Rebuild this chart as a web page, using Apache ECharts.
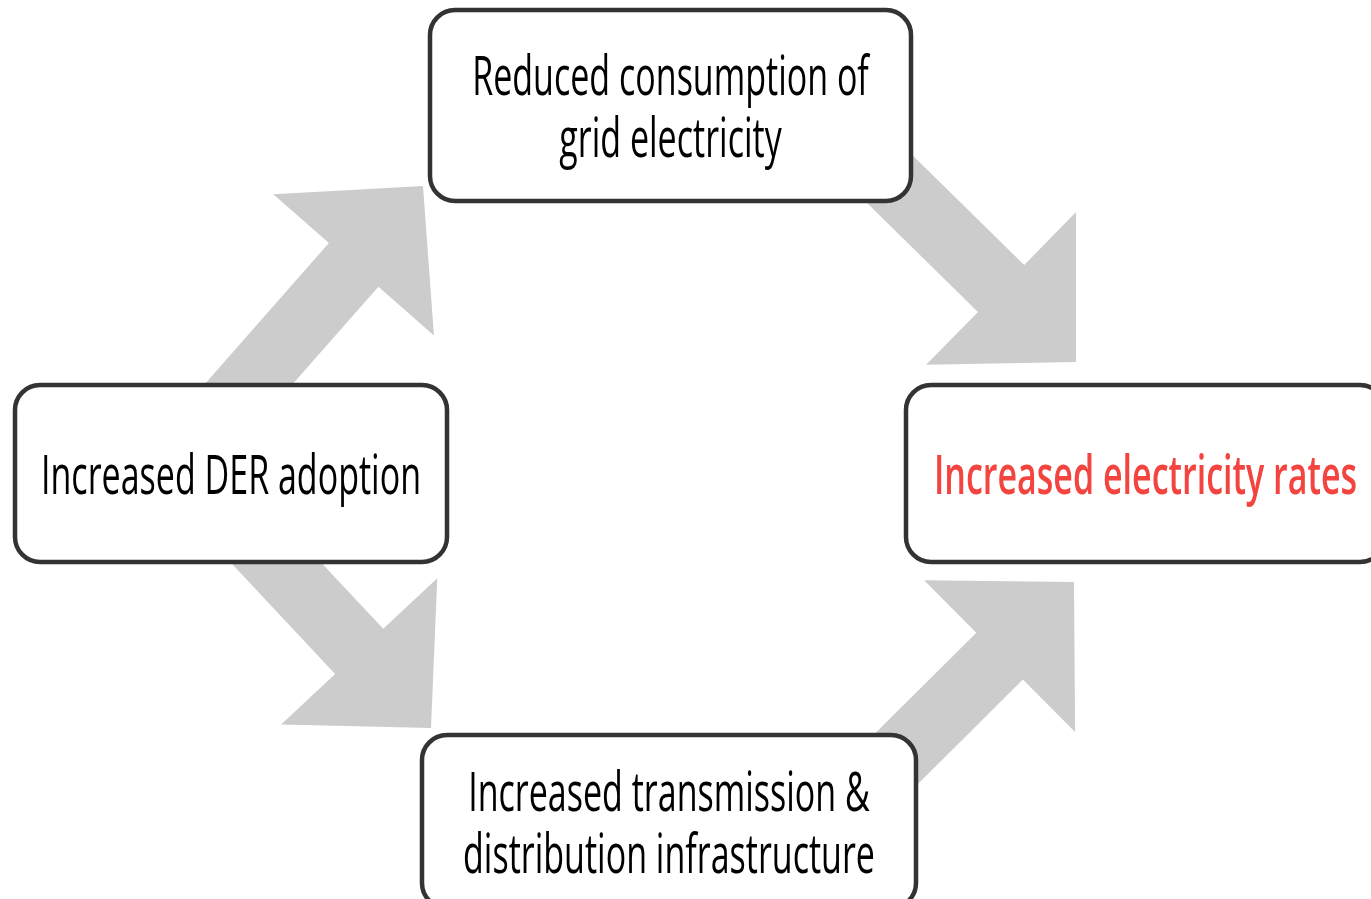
<!DOCTYPE html>
<html>
<head>
<meta charset="utf-8">
<title>DER feedback loop</title>
<script src="https://cdn.jsdelivr.net/npm/echarts@6/dist/echarts.min.js"></script>
<style>
  html, body { margin: 0; padding: 0; background: #fff; }
  #loop { width: 1371px; height: 899px; }
</style>
</head>
<body>
<div id="loop"></div>
<script>
// nodes of the loop (pixel-like units of the hidden axes)
var boxLabels = [
    'Reduced consumption of\ngrid electricity',
    'Increased DER adoption',
    'Increased electricity rates',
    'Increased transmission &\ndistribution infrastructure'
];
var boxLeft   = [430, 15, 906, 422];
var boxTop    = [10, 385, 385, 735];
var boxRight  = [911, 447, 1385, 916];
var boxBottom = [201, 562, 562, 908];
var outcomeIndex = 2;

// links: tail point (hidden under source box) -> arrow tip
var arrowTail = [[225, 411], [855, 145], [221, 504], [855, 800]];
var arrowTip  = [[423, 186], [1076, 362], [431, 728], [1074, 582]];

var loopdom = document.getElementById('loop');
var loopchart = echarts.init(loopdom);

var boxData = [];
for (var i = 0; i < boxLabels.length; i++) {
    boxData.push([boxLeft[i], boxTop[i], boxRight[i], boxBottom[i], i]);
}
var arrowData = [];
for (var j = 0; j < arrowTail.length; j++) {
    arrowData.push([arrowTail[j][0], arrowTail[j][1], arrowTip[j][0], arrowTip[j][1]]);
}

function renderArrow(params, api) {
    var a = api.coord([api.value(0), api.value(1)]);
    var b = api.coord([api.value(2), api.value(3)]);
    var dx = b[0] - a[0], dy = b[1] - a[1];
    var len = Math.sqrt(dx * dx + dy * dy);
    var ux = dx / len, uy = dy / len;
    var nx = -uy, ny = ux;
    var headLen = 105, headHalf = 107, shaftHalf = 33;
    var bx = b[0] - ux * headLen, by = b[1] - uy * headLen;
    var pts = [
        [a[0] + nx * shaftHalf, a[1] + ny * shaftHalf],
        [bx + nx * shaftHalf, by + ny * shaftHalf],
        [bx + nx * headHalf, by + ny * headHalf],
        [b[0], b[1]],
        [bx - nx * headHalf, by - ny * headHalf],
        [bx - nx * shaftHalf, by - ny * shaftHalf],
        [a[0] - nx * shaftHalf, a[1] - ny * shaftHalf]
    ];
    return {
        type: 'polygon',
        shape: { points: pts },
        style: { fill: '#cccccc' }
    };
}

function renderBox(params, api) {
    var p0 = api.coord([api.value(0), api.value(1)]);
    var p1 = api.coord([api.value(2), api.value(3)]);
    var idx = api.value(4);
    var hot = idx === outcomeIndex;
    return {
        type: 'group',
        children: [
            {
                type: 'rect',
                shape: { x: p0[0], y: p0[1], width: p1[0] - p0[0], height: p1[1] - p0[1], r: 25 },
                style: { fill: '#ffffff', stroke: '#333333', lineWidth: 4.5 }
            },
            {
                type: 'text',
                x: (p0[0] + p1[0]) / 2,
                y: (p0[1] + p1[1]) / 2 + 5,
                scaleX: 0.63,
                style: {
                    text: boxLabels[idx],
                    x: 0,
                    y: 0,
                    align: 'center',
                    verticalAlign: 'middle',
                    fontFamily: 'Open Sans',
                    fontSize: 54,
                    fontWeight: hot ? 600 : 500,
                    lineHeight: 62,
                    fill: hot ? '#f3443f' : '#000000'
                }
            }
        ]
    };
}

var loopoption = {
    animation: false,
    grid: { left: 0, right: 0, top: 0, bottom: 0 },
    xAxis: { type: 'value', min: 0, max: 1371, show: false },
    yAxis: { type: 'value', min: 0, max: 899, inverse: true, show: false },
    series: [
        {
            type: 'custom',
            name: 'links',
            renderItem: renderArrow,
            data: arrowData,
            clip: false,
            silent: true
        },
        {
            type: 'custom',
            name: 'nodes',
            renderItem: renderBox,
            data: boxData,
            clip: false,
            silent: true
        }
    ]
};

loopchart.setOption(loopoption, true);
</script>
</body>
</html>
